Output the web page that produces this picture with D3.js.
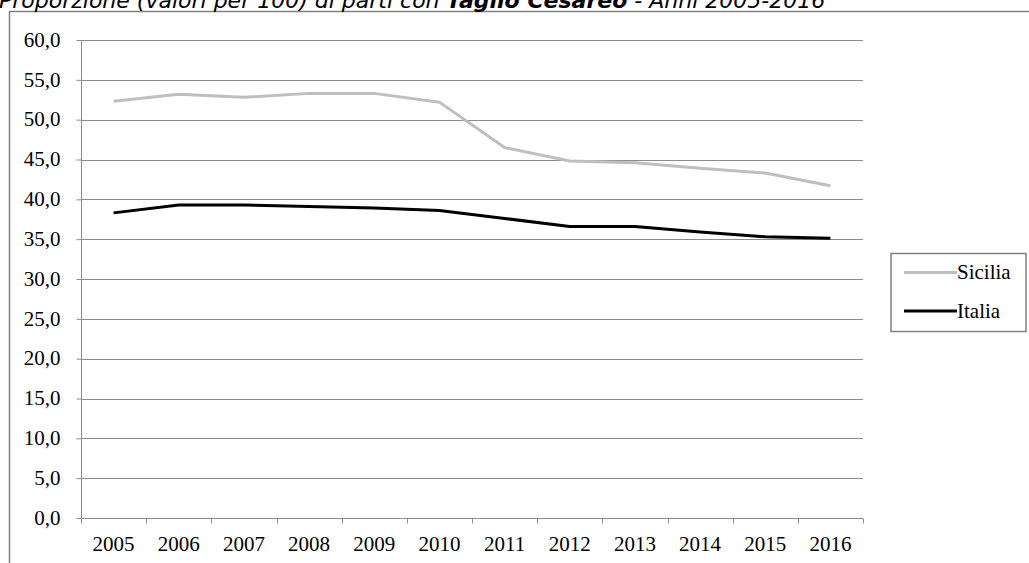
<!DOCTYPE html>
<html><head><meta charset="utf-8">
<script src="https://cdn.jsdelivr.net/npm/d3@7"></script>
<style>body{margin:0;background:#fff}svg{display:block}</style>
</head><body>
<script>
const years = ["2005","2006","2007","2008","2009","2010","2011","2012","2013","2014","2015","2016"];
const sicilia = [52.3,53.2,52.8,53.3,53.3,52.2,46.5,44.8,44.6,43.9,43.3,41.7];
const italia = [38.3,39.3,39.3,39.1,38.9,38.6,37.6,36.6,36.6,35.9,35.3,35.1];
const yTicks = [0,5,10,15,20,25,30,35,40,45,50,55,60];
const seriesNames = ["Sicilia","Italia"];
const seriesColors = ["#bfbfbf","#000000"];

const W=1029,H=563;
const svg=d3.select("body").append("svg").attr("width",W).attr("height",H);
const serif="Liberation Serif, Times New Roman, serif";

// frame
svg.append("line").attr("x1",9.5).attr("x2",W).attr("y1",11.5).attr("y2",11.5).attr("stroke","#808080").attr("stroke-width",1.5);
svg.append("line").attr("x1",9.5).attr("x2",9.5).attr("y1",11).attr("y2",H).attr("stroke","#808080").attr("stroke-width",1.5);

// title
const t=svg.append("text").attr("x",-1).attr("y",8).attr("font-family","DejaVu Sans, Verdana, sans-serif").attr("font-size",22).attr("font-style","italic").attr("fill","#000");
t.append("tspan").text("Proporzione (valori per 100) di parti con ");
t.append("tspan").attr("font-weight","bold").text("Taglio Cesareo");
t.append("tspan").text(" - Anni 2005-2016");

const x=d3.scaleBand().domain(years).range([81,863]);
const y=d3.scaleLinear().domain([0,60]).range([518,40]);

// grid
svg.append("g").selectAll("line").data(yTicks.filter(d=>d>0)).join("line")
  .attr("x1",81).attr("x2",863).attr("y1",d=>Math.round(y(d))+0.5).attr("y2",d=>Math.round(y(d))+0.5)
  .attr("stroke","#8c8c8c").attr("stroke-width",1);

// y axis
const ya=svg.append("g").attr("transform","translate(81.5,0)")
  .call(d3.axisLeft(y).tickValues(yTicks).tickSize(5).tickPadding(16).tickFormat(d=>d3.format(".1f")(d).replace(".",",")));
ya.select(".domain").attr("stroke","#8c8c8c").attr("d","M0,"+y(60)+"V"+(y(0)+0.5));
ya.selectAll(".tick line").attr("stroke","#8c8c8c");
ya.selectAll(".tick text").attr("font-family",serif).attr("font-size",21).attr("fill","#000").attr("dy","0.3em");

// x axis
const xa=svg.append("g").attr("transform","translate(0,518.5)")
  .call(d3.axisBottom(x).tickSize(0).tickPadding(0));
xa.select(".domain").attr("stroke","#8c8c8c").attr("d","M81,0H863");
xa.selectAll(".tick text").attr("font-family",serif).attr("font-size",21).attr("fill","#000").attr("y",32).attr("dy","0");
const bounds=years.map(d=>x(d)).concat([x.range()[1]]);
xa.append("g").selectAll("line").data(bounds).join("line")
  .attr("x1",d=>Math.round(d)+0.5).attr("x2",d=>Math.round(d)+0.5).attr("y1",0).attr("y2",5).attr("stroke","#8c8c8c");

// lines
const line=d3.line().x((d,i)=>x(years[i])+x.bandwidth()/2).y(d=>y(d));
[sicilia,italia].forEach((s,i)=>{
  svg.append("path").attr("d",line(s)).attr("fill","none").attr("stroke",seriesColors[i]).attr("stroke-width",3).attr("stroke-linejoin","round");
});

// legend
const lg=svg.append("g");
lg.append("rect").attr("x",891).attr("y",253.5).attr("width",135).attr("height",78).attr("fill","#fff").attr("stroke","#808080").attr("stroke-width",1.5);
seriesNames.forEach((n,i)=>{
  const yy=[272.5,311][i];
  lg.append("line").attr("x1",904).attr("x2",957).attr("y1",yy).attr("y2",yy).attr("stroke",seriesColors[i]).attr("stroke-width",3);
  lg.append("text").attr("x",957).attr("y",yy+6.5).attr("font-family",serif).attr("font-size",21).text(n);
});
</script>
</body></html>
